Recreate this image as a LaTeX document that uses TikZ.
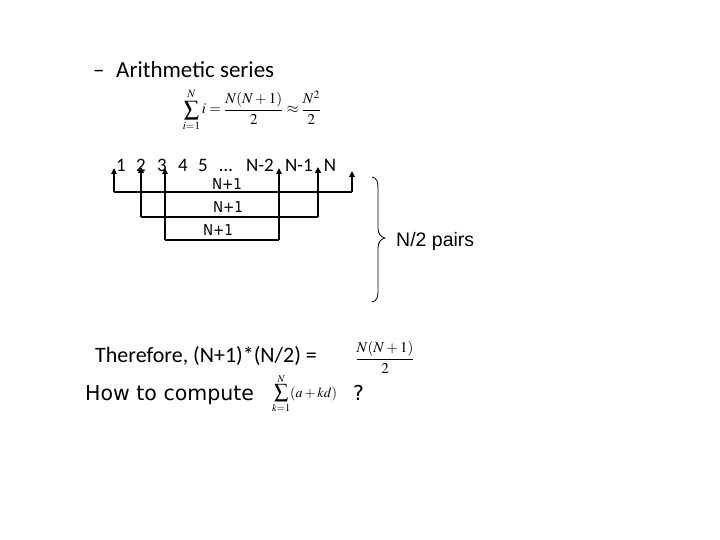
\documentclass[tikz,border=0pt]{standalone}
\usepackage{mathptmx}
\usepackage[no-math]{fontspec}
\setmainfont{Carlito}
\newfontfamily\arialf{Liberation Sans}
\newfontfamily\tahf[FakeStretch=0.9]{DejaVu Sans}
\newfontfamily\dejaf{DejaVu Sans}
\usetikzlibrary{arrows.meta}
\tikzset{
  px/.style={x=1pt,y=-1pt},
  tok/.style={inner sep=0pt,anchor=base,font=\fontsize{19}{22}\selectfont},
  lbl/.style={inner sep=0pt,anchor=base,font=\tahf\fontsize{15}{18}\selectfont},
  conn/.style={line width=1.1pt},
  arr/.style={line width=1.1pt,-{Triangle[length=6pt,width=5.5pt]}},
  arrb/.style={line width=1.7pt,-{Triangle[length=6pt,width=6pt]}},
  mth/.style={inner sep=0pt}
}
\begin{document}
\begin{tikzpicture}[px]
\useasboundingbox (0,0) rectangle (720,540);
% heading
\node[inner sep=0pt,anchor=base west,font=\fontsize{23}{27}\selectfont] (dash) at (93,78) {--};
\node[inner sep=0pt,anchor=base west,font=\fontsize{23}{27}\selectfont] (head) at (116,78) {Arithmetic series};
\node[mth,anchor=base,font=\fontsize{15}{18}\selectfont] (f1) at (252,114) {$\displaystyle\sum_{i=1}^{N} i=\frac{N(N+1)}{2}\approx\frac{N^2}{2}$};
% number row
\node[tok] (n1) at (121,172) {1};
\node[tok] (n2) at (141,172) {2};
\node[tok] (n3) at (162,172) {3};
\node[tok] (n4) at (183,172) {4};
\node[tok] (n5) at (203,172) {5};
\node[tok] (nd) at (226,172) {\dots};
\node[tok] (nm2) at (260,172) {N-2};
\node[tok] (nm1) at (299,172) {N-1};
\node[tok] (nn) at (330,172) {N};
% connector coordinates
\coordinate (t1) at (114,168); \coordinate (b1) at (114,192);
\coordinate (t2) at (141,167); \coordinate (b2) at (141,217);
\coordinate (t3) at (165,168); \coordinate (b3) at (165,240);
\coordinate (t4) at (279,168); \coordinate (b4) at (279,240);
\coordinate (t5) at (318,167); \coordinate (b5) at (318,217);
\coordinate (t6) at (352,171); \coordinate (b6) at (352,192);
\draw[conn] (b1) -- (b6);
\draw[conn] (b2) -- (b5);
\draw[conn] (b3) -- (b4);
\draw[arr] (b1) -- (t1);
\draw[arrb] (b2) -- (t2);
\draw[arr] (b3) -- (t3);
\draw[arr] (b4) -- (t4);
\draw[arrb] (b5) -- (t5);
\draw[arr] (b6) -- (t6);
\node[lbl] (l1) at (227,190) {N+1};
\node[lbl] (l2) at (228,213) {N+1};
\node[lbl] (l3) at (218,236) {N+1};
% brace
\draw[line width=0.8pt] (372,177) .. controls (377,178) and (378,182) .. (378,188)
  -- (378,228) .. controls (378,234) and (381,237) .. (385,238)
  .. controls (381,239) and (378,242) .. (378,248)
  -- (378,291) .. controls (378,297) and (377,301) .. (372,302);
\node[inner sep=0pt,anchor=base west,font=\arialf\fontsize{19.5}{23}\selectfont] (pairs) at (396,247) {N/2 pairs};
% bottom
\node[inner sep=0pt,anchor=base west,font=\fontsize{22}{26}\selectfont] (there) at (95,362) {Therefore, (N+1)*(N/2) =};
\node[mth,anchor=base,font=\fontsize{15}{18}\selectfont] (f2) at (385,363) {$\displaystyle\frac{N(N+1)}{2}$};
\node[inner sep=0pt,anchor=base west,font=\dejaf\fontsize{20.5}{24}\selectfont] (how) at (85,400) {How to compute};
\node[mth,anchor=base west,font=\fontsize{14}{17}\selectfont] (f3) at (272,397) {$\displaystyle\sum_{k=1}^{N}(a+kd)$};
\node[inner sep=0pt,anchor=base west,font=\dejaf\fontsize{20.5}{24}\selectfont] (q) at (353,400) {?};
\end{tikzpicture}
\end{document}
